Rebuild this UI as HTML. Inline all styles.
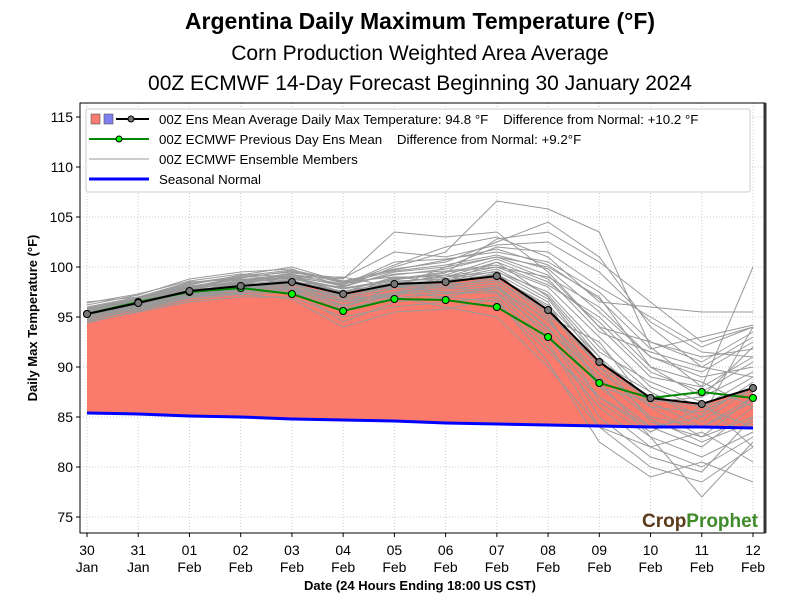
<!DOCTYPE html>
<html><head><meta charset="utf-8"><style>
body{margin:0;background:#fff;width:800px;height:600px;overflow:hidden;font-family:"Liberation Sans",sans-serif}
</style></head><body>
<svg id="c" width="800" height="600" xmlns="http://www.w3.org/2000/svg" font-family="Liberation Sans, sans-serif">
<text x="420" y="29" text-anchor="middle" font-size="23" font-weight="bold">Argentina Daily Maximum Temperature (°F)</text>
<text x="420" y="60" text-anchor="middle" font-size="21">Corn Production Weighted Area Average</text>
<text x="420" y="90" text-anchor="middle" font-size="21">00Z ECMWF 14-Day Forecast Beginning 30 January 2024</text>
<g id="grid"></g><g id="fill"></g><g id="ens"></g><g id="lines"></g><g id="axes"></g>
<text x="37" y="318" transform="rotate(-90 37 318)" text-anchor="middle" font-size="13" font-weight="bold">Daily Max Temperature (°F)</text>
<text x="420" y="590" text-anchor="middle" font-size="13" font-weight="bold">Date (24 Hours Ending 18:00 US CST)</text>
<g>
<rect x="86" y="109" width="664" height="83" fill="#fff" fill-opacity="0.85" stroke="#ccc" rx="2"/>
<rect x="91" y="114" width="9" height="10" fill="#f87b70" stroke="#555" stroke-width="0.6"/>
<rect x="104" y="114" width="9" height="10" fill="#7f7ff0" stroke="#555" stroke-width="0.6"/>
<line x1="116" y1="119" x2="149" y2="119" stroke="#000" stroke-width="2"/><circle cx="131" cy="119" r="3" fill="#777" stroke="#000"/>
<text x="159" y="124" font-size="13.3" xml:space="preserve">00Z Ens Mean Average Daily Max Temperature: 94.8 °F    Difference from Normal: +10.2 °F</text>
<line x1="89" y1="139" x2="149" y2="139" stroke="#080" stroke-width="2"/><circle cx="119" cy="139" r="3" fill="#0f0" stroke="#000"/>
<text x="159" y="144" font-size="13.3" xml:space="preserve">00Z ECMWF Previous Day Ens Mean    Difference from Normal: +9.2°F</text>
<line x1="89" y1="159" x2="149" y2="159" stroke="#999" stroke-width="1"/>
<text x="159" y="164" font-size="13.3">00Z ECMWF Ensemble Members</text>
<line x1="89" y1="179" x2="149" y2="179" stroke="#00f" stroke-width="3"/>
<text x="159" y="184" font-size="13.3">Seasonal Normal</text>
</g>
<g id="logo-g"><text x="642" y="527" font-size="19" font-weight="bold" textLength="116"><tspan fill="#5a3a1a">Crop</tspan><tspan fill="#3f8a2a">Prophet</tspan></text></g>
</svg>
<script>
const dates=["30|Jan","31|Jan","01|Feb","02|Feb","03|Feb","04|Feb","05|Feb","06|Feb","07|Feb","08|Feb","09|Feb","10|Feb","11|Feb","12|Feb"];
const yTicks=[75,80,85,90,95,100,105,110,115];
const ensMean=[95.3,96.4,97.6,98.1,98.5,97.3,98.3,98.5,99.1,95.7,90.5,86.9,86.3,87.9];
const prevMean=[95.3,96.5,97.5,97.9,97.3,95.6,96.8,96.7,96.0,93.0,88.4,86.9,87.5,86.9];
const normal=[85.4,85.3,85.1,85.0,84.8,84.7,84.6,84.4,84.3,84.2,84.1,84.0,84.0,83.9];
const members=[
[95.8,96.9,98.3,99.0,99.5,98.5,99.8,100.5,102.5,104.5,101.0,94.0,90.0,93.0],
[95.0,96.0,97.0,97.5,97.8,96.0,97.5,97.0,98.0,94.0,88.0,84.0,82.0,86.0],
[96.2,97.2,98.8,99.5,99.8,98.0,100.0,101.5,106.6,105.8,103.5,92.0,88.0,100.0],
[94.5,95.5,96.5,97.0,97.0,95.0,96.0,96.5,97.0,92.0,86.0,82.0,80.0,83.0],
[95.5,96.5,97.8,98.5,99.0,97.5,98.5,99.0,100.0,98.0,93.0,88.0,86.0,89.0],
[95.2,96.2,97.3,97.8,98.2,97.0,98.0,98.0,99.0,96.0,90.0,85.0,84.0,87.0],
[96.0,97.0,98.5,98.8,98.5,96.5,97.0,96.0,95.0,90.0,84.0,80.0,78.5,82.0],
[94.8,96.0,97.0,98.0,98.5,98.0,99.5,100.0,101.0,100.0,97.0,90.0,87.0,92.0],
[95.4,96.6,98.0,98.5,99.2,98.8,103.5,103.0,103.5,99.5,94.0,89.0,88.0,91.0],
[95.1,96.3,97.6,97.2,97.5,95.5,97.5,98.0,98.5,94.5,89.5,86.0,85.5,88.0],
[95.6,96.8,98.2,99.2,100.0,98.5,99.0,98.5,100.5,97.0,91.0,84.5,83.0,85.0],
[94.6,95.8,97.0,98.0,98.5,96.0,98.0,97.5,98.0,93.0,87.0,83.5,86.0,84.0],
[95.9,96.6,97.5,98.5,98.0,97.0,97.0,99.0,99.5,97.5,92.0,87.5,85.0,94.0],
[95.3,96.4,97.6,98.2,98.8,97.8,98.8,99.5,100.0,99.0,96.0,91.0,89.0,90.0],
[95.0,96.0,97.2,97.8,98.0,96.5,97.5,98.0,97.5,93.5,85.0,81.0,79.5,85.0],
[96.5,97.0,98.0,99.0,99.0,99.0,98.0,100.0,102.0,101.5,98.0,95.0,92.0,94.0],
[95.2,96.1,97.1,97.9,98.3,97.0,98.2,98.3,99.3,96.5,88.0,86.5,84.0,86.5],
[94.9,96.3,97.9,98.3,98.6,97.5,99.0,99.0,100.5,98.5,94.5,89.5,87.5,90.5],
[95.7,96.7,97.4,98.0,97.8,94.5,96.5,97.0,96.5,91.5,87.0,84.0,85.0,88.5],
[95.1,96.2,97.5,98.4,99.0,97.8,98.6,98.8,99.8,97.2,91.5,88.5,86.5,82.0],
[95.4,96.5,97.7,98.1,98.7,97.2,98.9,99.2,98.8,95.0,92.5,86.0,83.0,87.0],
[95.6,96.9,98.1,98.7,99.3,98.2,100.5,100.8,101.5,100.5,97.5,92.5,90.5,93.5],
[94.7,95.9,97.0,97.7,97.9,96.2,97.2,97.8,98.2,93.8,89.0,84.8,82.5,84.5],
[95.3,96.5,97.8,98.0,98.4,97.6,98.4,98.6,99.6,96.8,90.5,87.5,84.5,88.0],
[95.5,96.3,97.4,98.3,99.1,98.1,99.3,99.6,100.2,98.2,95.0,90.0,88.5,86.0],
[95.0,96.1,97.3,98.0,98.3,96.8,97.8,97.3,97.8,94.8,88.5,83.0,81.0,83.5],
[95.8,96.8,98.0,98.9,99.6,98.4,99.6,100.2,101.2,99.8,95.5,91.0,89.5,92.5],
[95.2,96.4,97.6,98.1,98.5,97.3,98.1,98.2,98.7,95.5,90.0,86.8,86.0,87.5],
[96.4,97.3,98.6,99.3,99.0,98.2,100.2,102.0,103.0,101.0,96.5,96.0,95.5,95.5],
[95.7,96.6,97.9,98.6,99.4,98.9,101.5,101.0,102.2,102.5,99.5,94.5,91.5,91.0],
[94.4,95.6,96.7,97.3,96.8,94.0,95.5,95.8,96.8,90.5,82.5,79.0,80.5,78.5],
[95.9,96.9,98.4,99.1,99.7,98.6,99.7,100.7,101.8,100.2,96.8,91.8,93.0,94.2],
[95.1,96.0,97.3,97.6,97.6,96.7,97.3,98.4,99.4,95.2,86.5,83.0,77.0,82.5],
[95.6,96.7,97.9,98.8,98.9,97.9,98.7,99.4,102.8,103.5,100.5,96.5,92.5,94.0],
[95.3,96.2,97.5,98.4,98.9,97.4,98.3,99.2,100.8,98.8,93.5,91.5,90.0,89.0],
[94.8,95.7,96.9,97.4,97.6,95.8,96.9,97.4,97.4,92.5,84.0,82.0,83.5,80.5],
[95.5,96.6,97.7,98.6,99.2,98.3,99.2,99.8,101.0,99.2,94.0,92.5,91.0,91.8],
[95.2,96.3,97.7,98.2,98.6,97.1,98.0,98.7,99.0,96.2,91.0,86.5,87.0,89.5]
];
const X0=87,X1=753,Y0=117,YV0=115,PPD=10,PL=80,PR=765,PT=103,PB=533;
const sx=i=>X0+i*(X1-X0)/(dates.length-1);
const sy=v=>Y0+(YV0-v)*PPD;
const NS="http://www.w3.org/2000/svg";
function mk(p,t,a){const e=document.createElementNS(NS,t);for(const k in a)e.setAttribute(k,a[k]);document.getElementById(p).appendChild(e);return e;}
const pts=arr=>arr.map((v,i)=>sx(i)+","+sy(v)).join(" ");
yTicks.forEach(t=>{const g=mk("grid","line",{x1:PL,x2:PR,y1:sy(t),y2:sy(t),stroke:"#ccc","stroke-dasharray":"1,2"});

});
dates.forEach((d,i)=>{const g=mk("grid","line",{x1:sx(i),x2:sx(i),y1:PT,y2:PB,stroke:"#ccc","stroke-dasharray":"1,2"});

});
const fp=pts(ensMean)+" "+normal.map((v,i)=>sx(i)+","+sy(v)).reverse().join(" ");
const f=mk("fill","polygon",{points:fp,fill:"#fa7a6c"});


members.forEach(m=>{const l=mk("ens","polyline",{points:pts(m),fill:"none",stroke:"#999","stroke-width":1});

});
const n=mk("lines","polyline",{points:pts(normal),fill:"none",stroke:"#00f","stroke-width":3});


const pl=mk("lines","polyline",{points:pts(prevMean),fill:"none",stroke:"#080","stroke-width":2});


const ml=mk("lines","polyline",{points:pts(ensMean),fill:"none",stroke:"#000","stroke-width":2});


prevMean.forEach((v,i)=>{const c=mk("lines","circle",{cx:sx(i),cy:sy(v),r:3.5,fill:"#0f0",stroke:"#000"});

});
ensMean.forEach((v,i)=>{const c=mk("lines","circle",{cx:sx(i),cy:sy(v),r:3.5,fill:"#777",stroke:"#000"});

});
const fr=mk("axes","rect",{x:PL,y:PT,width:PR-PL,height:PB-PT,fill:"none",stroke:"#000","stroke-width":1});


const rb=mk("axes","line",{x1:PR,x2:PR,y1:PT,y2:PB,stroke:"#333","stroke-width":3});


yTicks.forEach(t=>{mk("axes","line",{x1:PL-4,x2:PL,y1:sy(t),y2:sy(t),stroke:"#000"});
const tx=mk("axes","text",{x:PL-7,y:sy(t)+5,"text-anchor":"end","font-size":14});tx.textContent=t;

});
dates.forEach((d,i)=>{mk("axes","line",{x1:sx(i),x2:sx(i),y1:PB,y2:PB+4,stroke:"#000"});
const [a,b]=d.split("|");
const t1=mk("axes","text",{x:sx(i),y:555,"text-anchor":"middle","font-size":14});t1.textContent=a;


const t2=mk("axes","text",{x:sx(i),y:572,"text-anchor":"middle","font-size":14});t2.textContent=b;

});
</script>
</body></html>
